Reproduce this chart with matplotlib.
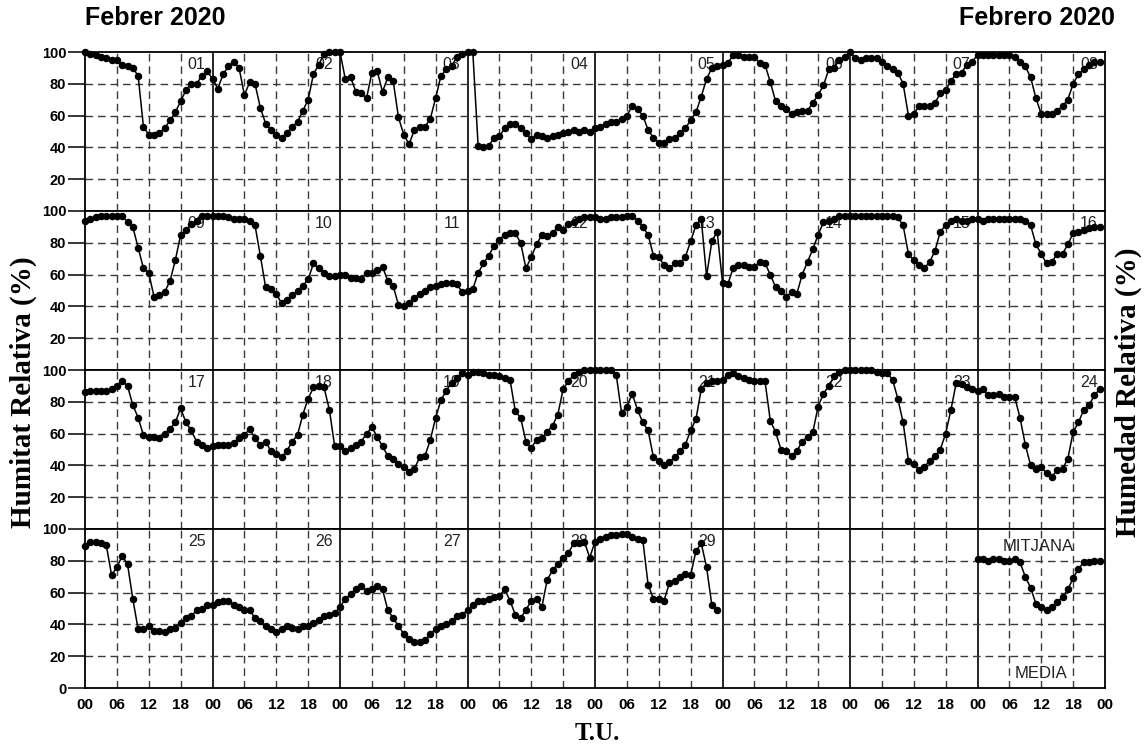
import matplotlib
matplotlib.use('Agg')
import matplotlib.pyplot as plt
import numpy as np

# hourly relative humidity (%), 00..23 UT, one list per day
d01 = [100, 99, 98, 97, 96, 95, 95, 92, 91, 90, 85, 53, 48, 48, 49, 52, 57, 62, 69, 76, 80, 80, 85, 88]
d02 = [83, 77, 86, 91, 94, 90, 73, 81, 80, 65, 55, 51, 48, 46, 49, 53, 56, 63, 70, 86, 92, 99, 100, 100]
d03 = [100, 83, 84, 75, 74, 71, 87, 88, 75, 84, 82, 59, 48, 42, 51, 53, 53, 58, 71, 85, 89, 91, 97, 99]
d04 = [100, 100, 41, 40, 41, 46, 47, 52, 55, 55, 52, 49, 45, 48, 47, 46, 47, 48, 49, 50, 51, 50, 51, 50]
d05 = [52, 53, 55, 56, 56, 58, 60, 66, 64, 60, 51, 46, 43, 43, 45, 46, 49, 52, 57, 62, 72, 83, 90, 91]
d06 = [92, 93, 98, 98, 97, 97, 97, 93, 92, 81, 69, 66, 64, 61, 62, 63, 63, 68, 73, 79, 89, 90, 95, 97]
d07 = [100, 96, 95, 96, 96, 96, 94, 91, 89, 87, 80, 60, 61, 66, 66, 66, 68, 74, 76, 82, 86, 87, 92, 94]
d08 = [98, 98, 98, 98, 98, 98, 98, 97, 94, 91, 84, 71, 61, 61, 61, 63, 66, 70, 80, 86, 89, 92, 94, 94]
d09 = [94, 95, 96, 97, 97, 97, 97, 97, 93, 90, 77, 64, 61, 46, 47, 49, 56, 69, 85, 88, 92, 94, 97, 97]
d10 = [97, 97, 97, 96, 95, 95, 95, 94, 91, 72, 52, 51, 48, 42, 44, 47, 50, 53, 57, 67, 64, 61, 59, 59]
d11 = [60, 60, 58, 58, 57, 61, 61, 63, 65, 56, 53, 41, 40, 42, 45, 48, 50, 52, 53, 54, 55, 55, 54, 49]
d12 = [50, 51, 61, 67, 72, 78, 82, 85, 86, 86, 80, 64, 71, 79, 85, 84, 86, 90, 88, 92, 93, 95, 96, 96]
d13 = [96, 95, 95, 96, 96, 96, 97, 97, 94, 90, 85, 72, 71, 66, 64, 67, 67, 71, 81, 91, 95, 59, 81, 87]
d14 = [55, 54, 64, 66, 66, 65, 65, 68, 67, 60, 52, 50, 46, 49, 48, 60, 68, 76, 85, 93, 94, 95, 97, 97]
d15 = [97, 97, 97, 97, 97, 97, 97, 97, 97, 96, 91, 73, 69, 66, 64, 68, 75, 87, 91, 94, 95, 94, 94, 95]
d16 = [95, 94, 95, 95, 95, 95, 95, 95, 95, 94, 91, 79, 73, 67, 68, 73, 73, 79, 86, 87, 88, 89, 90, 90]
d17 = [86, 87, 87, 87, 87, 88, 90, 93, 90, 78, 70, 59, 58, 58, 57, 60, 63, 67, 76, 67, 62, 55, 53, 51]
d18 = [52, 53, 53, 53, 54, 57, 59, 63, 57, 53, 55, 49, 47, 45, 49, 55, 59, 72, 82, 89, 90, 89, 75, 52]
d19 = [52, 49, 51, 53, 55, 60, 64, 58, 52, 46, 44, 41, 39, 36, 38, 45, 46, 56, 70, 81, 87, 92, 95, 98]
d20 = [97, 99, 99, 98, 97, 97, 96, 95, 94, 74, 70, 55, 51, 56, 57, 61, 65, 72, 88, 93, 97, 99, 100, 100]
d21 = [100, 100, 100, 100, 97, 73, 77, 85, 75, 67, 62, 45, 43, 40, 42, 45, 49, 53, 62, 69, 88, 92, 93, 93]
d22 = [94, 97, 98, 96, 95, 94, 93, 93, 93, 68, 61, 50, 49, 46, 49, 55, 58, 61, 77, 85, 90, 96, 99, 100]
d23 = [100, 100, 100, 100, 100, 99, 98, 98, 94, 82, 67, 43, 41, 37, 39, 43, 46, 50, 60, 75, 92, 91, 89, 88]
d24 = [87, 88, 84, 84, 85, 83, 83, 83, 70, 53, 40, 38, 39, 35, 33, 37, 38, 44, 61, 67, 75, 78, 84, 88]
d25 = [89, 92, 92, 91, 90, 71, 76, 83, 78, 56, 37, 37, 39, 36, 36, 35, 37, 38, 41, 44, 45, 49, 50, 52]
d26 = [52, 54, 55, 55, 52, 51, 49, 49, 44, 42, 39, 37, 35, 37, 39, 38, 37, 39, 39, 41, 43, 45, 46, 47]
d27 = [51, 56, 59, 62, 64, 61, 62, 64, 62, 49, 44, 39, 34, 31, 29, 29, 30, 34, 37, 39, 40, 42, 45, 46]
d28 = [49, 52, 55, 55, 56, 57, 58, 62, 55, 46, 44, 49, 55, 56, 51, 68, 74, 78, 82, 85, 91, 91, 92, 82]
d29 = [92, 94, 95, 96, 96, 97, 97, 95, 94, 93, 65, 56, 56, 55, 66, 67, 70, 72, 71, 86, 91, 76, 52, 49]
mitjana = [81, 81, 80, 81, 81, 80, 80, 81, 79, 70, 63, 53, 51, 49, 51, 54, 57, 62, 69, 75, 79, 79, 80, 80]

rows = [
    [d01, d02, d03, d04, d05, d06, d07, d08],
    [d09, d10, d11, d12, d13, d14, d15, d16],
    [d17, d18, d19, d20, d21, d22, d23, d24],
    [d25, d26, d27, d28, d29],
]
hour_labels = ['00', '06', '12', '18']

SANS = 'Liberation Sans'
SERIF = 'Liberation Serif'
plt.rcParams['font.family'] = SANS

W, H = 1145, 749
fig = plt.figure(figsize=(W / 100, H / 100), dpi=100)

left, right = 85 / W, 1105 / W
top, bottom = 1 - 52 / H, 1 - 688 / H
rh = (top - bottom) / 4
dash = (0, (5.5, 3.5))
gcol = '#3a3a3a'

day = 1
for r in range(4):
    ax = fig.add_axes([left, top - (r + 1) * rh, right - left, rh])
    ax.set_xlim(0, 192)
    ax.set_ylim(0, 100)

    # grid: dashed every 6 h and every 20 %, solid at day boundaries
    for x in range(6, 192, 6):
        if x % 24 == 0:
            ax.axvline(x, color='black', lw=1.2, zorder=1)
        else:
            ax.axvline(x, color=gcol, lw=1.0, ls=dash, zorder=1)
    for y in (20, 40, 60, 80):
        ax.axhline(y, color=gcol, lw=1.0, ls=dash, zorder=1)

    vals = [v for d in rows[r] for v in d]
    ax.plot(np.arange(len(vals)), vals, '-o', color='black', lw=1.1,
            ms=4.4, zorder=3, clip_on=False)

    for i in range(len(rows[r])):
        ax.text(24 * i + 21, 92, f'{day:02d}', ha='center', va='center',
                fontsize=11.5, color='#222222', zorder=2)
        day += 1

    if r == 3:
        ax.plot(np.arange(168, 192), mitjana, '-o', color='black', lw=1.1,
                ms=4.4, zorder=3, clip_on=False)
        ax.text(168 + 11.5, 89, 'MITJANA', ha='center', va='center',
                fontsize=12, color='#222222')
        ax.text(168 + 12, 9, 'MEDIA', ha='center', va='center',
                fontsize=12, color='#222222')
        ax.set_yticks([0, 20, 40, 60, 80, 100])
        ticks = list(range(0, 193, 6))
        ax.set_xticks(ticks)
        ax.set_xticklabels([hour_labels[(t // 6) % 4] for t in ticks],
                           fontsize=11, fontweight='bold')
        ax.tick_params(axis='x', length=0, pad=7)
    else:
        ax.set_yticks([20, 40, 60, 80, 100])
        ax.set_xticks([])

    ax.set_yticklabels([str(t) for t in ax.get_yticks().astype(int)],
                       fontsize=10.5, fontweight='bold')
    ax.tick_params(axis='y', length=12, width=1.1, pad=1.5)
    for s in ax.spines.values():
        s.set_linewidth(1.3)
        s.set_zorder(4)

fig.text(85 / W, 1 - 18 / H, 'Febrer 2020', ha='left', va='center',
         fontsize=18, fontweight='bold')
fig.text(1115 / W, 1 - 18 / H, 'Febrero 2020', ha='right', va='center',
         fontsize=18, fontweight='bold')
fig.text(23 / W, 1 - 392 / H, 'Humitat Relativa (%)', rotation=90,
         ha='center', va='center', fontsize=21, fontweight='bold', family=SERIF)
fig.text(1128 / W, 1 - 392 / H, 'Humedad Relativa (%)', rotation=90,
         ha='center', va='center', fontsize=21, fontweight='bold', family=SERIF)
fig.text(597 / W, 1 - 734 / H, 'T.U.', ha='center', va='center',
         fontsize=18, fontweight='bold', family=SERIF)

fig.savefig('out.png', dpi=100)
